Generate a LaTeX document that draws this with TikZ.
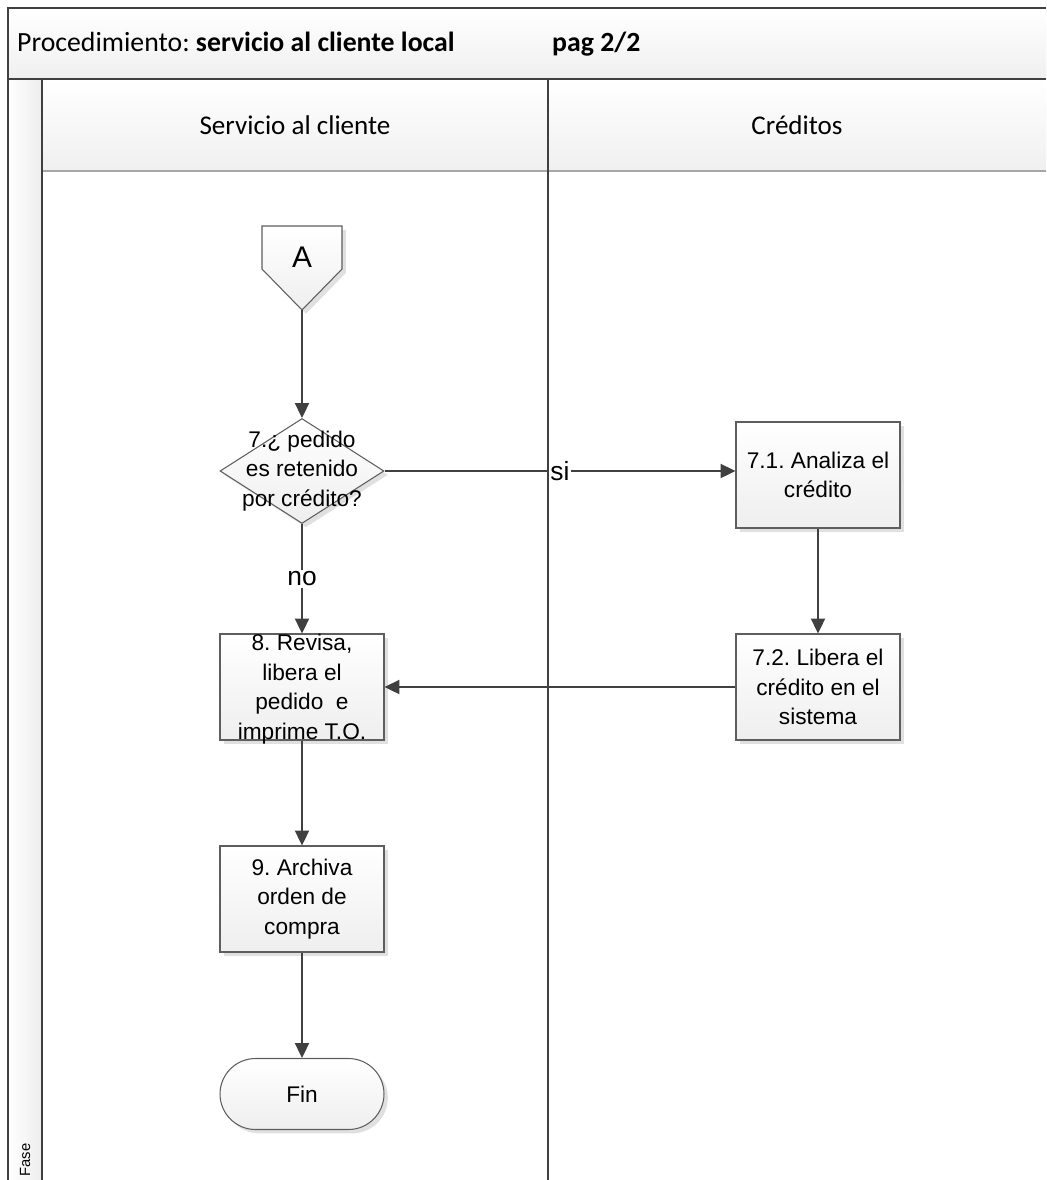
\documentclass[tikz,border=0pt]{standalone}
\usepackage{fontspec}
\setmainfont{Liberation Sans}
\newfontfamily\calibri{Carlito}
\usetikzlibrary{arrows.meta,shapes.geometric,shadows}
\definecolor{linea}{HTML}{404040}
\definecolor{borde}{HTML}{5E5E5E}
\frenchspacing
\begin{document}
\begin{tikzpicture}[x=0.02cm,y=-0.02cm]
	\tikzset{sombra/.style={drop shadow={shadow xshift=2.2pt, shadow yshift=-2.2pt, fill=black!12, opacity=1}},
		forma/.style={draw=borde, line width=0.6pt, top color=white, bottom color=gray!13, sombra},
		caja/.style={forma, rectangle, minimum width=3.28cm, minimum height=2.12cm, inner sep=0pt, align=center, font=\texto},
		decision/.style={forma, diamond, minimum width=3.28cm, minimum height=2.1cm, inner sep=0pt},
		terminal/.style={forma, rectangle, rounded corners=0.71cm, minimum width=3.28cm, minimum height=1.42cm, font=\texto},
		etiqueta/.style={fill=white, inner sep=1pt, font=\fontsize{15}{18}\selectfont},
		encabezado/.style={font=\calibri\fontsize{15.4}{18}\selectfont},
		titular/.style={font=\calibri\fontsize{15.8}{18}\selectfont, anchor=base west},
		marco/.style={draw=linea, line width=1.1pt},
		flecha/.style={>={Triangle[length=8.5pt,width=8pt]}, ->, draw=linea, line width=1.1pt}}
	\newcommand{\texto}{\fontsize{12.9}{16.8}\selectfont}
	\useasboundingbox (0,0) rectangle (1046,1180);

	\fill[top color=white, bottom color=gray!12] (8,8) rectangle (1046,79);
	\fill[top color=white, bottom color=gray!12] (42,79) rectangle (1046,171);
	\fill[left color=white, right color=gray!14] (8,79) rectangle (42,1180);
	\draw[gray!70, line width=0.8pt] (42,171) -- (1046,171);
	\draw[marco] (1046,8) -- (8,8) -- (8,1180);
	\draw[marco] (8,79) -- (1046,79);
	\draw[marco] (42,79) -- (42,1180);
	\draw[marco] (548,79) -- (548,1180);

	\node[titular] (titulo) at (11,51) {Procedimiento: \textbf{servicio al cliente local}};
	\node[titular] (pagina) at (546,51) {\textbf{pag 2/2}};
	\node[encabezado] (servicio) at (295,125) {Servicio al cliente};
	\node[encabezado] (creditos) at (797,125) {Créditos};
	\node[rotate=90, font=\fontsize{8.4}{10}\selectfont] (fase) at (25,1160) {Fase};

	\draw[forma] (262,226) -- (342,226) -- (342,269) -- (302,310) -- (262,269) -- cycle;
	\node[font=\fontsize{17}{20}\selectfont] (A) at (302,257) {A};
	\coordinate (Apunta) at (302,310);

	\node[decision] (d7) at (302,471) {};
	\node[font=\texto, align=center] (d7texto) at (d7) {7.¿ pedido\\es retenido\\por crédito?};
	\node[caja] (a71) at (818,475) {7.1. Analiza el\\crédito};
	\node[caja] (a72) at (818,687) {7.2. Libera el\\crédito en el\\sistema};
	\node[caja] (p8) at (302,687) {};
	\node[font=\texto, align=center] (p8texto) at (302,689) {8. Revisa,\\libera el\\pedido\ \ e\\imprime T.O.};
	\node[caja] (p9) at (302,899) {9. Archiva\\orden de\\compra};
	\node[terminal] (fin) at (302,1094) {Fin};

	\draw[flecha] (Apunta) -- (d7.north);
	\draw[flecha] (d7.east) -- node[etiqueta] {si} (a71.west |- d7.east);
	\draw[flecha] (a71) -- (a72);
	\draw[flecha] (a72) -- (p8);
	\draw[flecha] (d7.south) -- node[etiqueta] {no} (p8.north);
	\draw[flecha] (p8) -- (p9);
	\draw[flecha] (p9) -- (fin);
\end{tikzpicture}
\end{document}
